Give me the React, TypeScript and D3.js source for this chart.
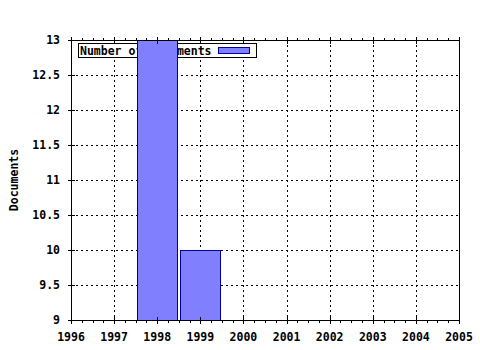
import React from "react";
import * as d3 from "d3";

const years = [1996, 1997, 1998, 1999, 2000, 2001, 2002, 2003, 2004, 2005];
const barYears = [1998, 1999];
const barValues = [13, 10];
const yTicks = [9, 9.5, 10, 10.5, 11, 11.5, 12, 12.5, 13];
const seriesName = "Number of Documents";
const yTitle = "Documents";

const W = 480, H = 350;
const L = 71, R = 459, T = 40, B = 320;
const FONT = "'DejaVu Sans Mono', monospace";

export default function App() {
  const x = d3.scaleLinear().domain([1996, 2005]).range([L, R]);
  const y = d3.scaleLinear().domain([9, 13]).range([B, T]);
  const step = x(1997) - x(1996);
  const bw = step * 0.93;
  const minor: number[] = [];
  for (let i = 0; i < years.length - 1; i++) {
    for (let k = 1; k < 4; k++) minor.push(years[i] + k / 4);
  }
  return (
    <svg width={W} height={H} style={{ position: "absolute", left: 0, top: 0, background: "#fff" }}>
      <defs>
        <clipPath id="plot">
          <rect x={L} y={T} width={R - L} height={B - T} />
        </clipPath>
      </defs>
      <rect x={0} y={0} width={W} height={H} fill="#fff" />
      {/* grid */}
      {years.slice(1, -1).map((yr) => (
        <line key={"gx" + yr} x1={Math.round(x(yr)) + 0.5} x2={Math.round(x(yr)) + 0.5} y1={T} y2={B}
          stroke="#000" strokeDasharray="2,3" strokeWidth={1} />
      ))}
      {yTicks.slice(1, -1).map((v) => (
        <line key={"gy" + v} x1={L} x2={R} y1={Math.round(y(v)) + 0.5} y2={Math.round(y(v)) + 0.5}
          stroke="#000" strokeDasharray="2,3" strokeWidth={1} />
      ))}
      {/* legend */}
      <rect x={78.5} y={43.5} width={178} height={14} fill="#fff" stroke="#000" strokeWidth={1} />
      <text x={80} y={55} fontFamily={FONT} fontWeight="bold" fontSize={11.5} fill="#000">{seriesName}</text>
      <rect x={218.5} y={47.5} width={31} height={6} fill="#8080ff" stroke="#0000a0" strokeWidth={1} />
      {/* bars */}
      <g clipPath="url(#plot)">
        {barYears.map((yr, i) => (
          <rect key={"b" + yr} x={Math.round(x(yr) - bw / 2) + 0.5} y={Math.round(y(barValues[i])) + 0.5}
            width={Math.round(bw)} height={B - Math.round(y(barValues[i]))}
            fill="#8080ff" stroke="#0000a0" strokeWidth={1} />
        ))}
      </g>
      {/* frame */}
      <line x1={L + 0.5} x2={L + 0.5} y1={T} y2={B + 1} stroke="#000" />
      <line x1={R + 0.5} x2={R + 0.5} y1={T} y2={B + 1} stroke="#000" />
      <line x1={L} x2={R + 1} y1={T + 0.5} y2={T + 0.5} stroke="#000" />
      <line x1={L} x2={R + 1} y1={B + 0.5} y2={B + 0.5} stroke="#000" />
      {/* x ticks */}
      {years.map((yr) => (
        <g key={"xt" + yr}>
          <line x1={Math.round(x(yr)) + 0.5} x2={Math.round(x(yr)) + 0.5} y1={B - 3} y2={B + 4} stroke="#000" />
          <line x1={Math.round(x(yr)) + 0.5} x2={Math.round(x(yr)) + 0.5} y1={T - 3} y2={T + 4} stroke="#000" />
          <text x={x(yr)} y={341} textAnchor="middle" fontFamily={FONT} fontWeight="bold" fontSize={11.5} fill="#000">{yr}</text>
        </g>
      ))}
      {minor.map((m, i) => (
        <g key={"mt" + i}>
          <line x1={Math.round(x(m)) + 0.5} x2={Math.round(x(m)) + 0.5} y1={B} y2={B + 3} stroke="#000" />
          <line x1={Math.round(x(m)) + 0.5} x2={Math.round(x(m)) + 0.5} y1={T - 2} y2={T + 1} stroke="#000" />
        </g>
      ))}
      {/* y ticks */}
      {yTicks.map((v) => (
        <g key={"yt" + v}>
          <line x1={L - 3} x2={L + 4} y1={Math.round(y(v)) + 0.5} y2={Math.round(y(v)) + 0.5} stroke="#000" />
          <text x={60} y={y(v) + 4} textAnchor="end" fontFamily={FONT} fontWeight="bold" fontSize={11.5} fill="#000">{v}</text>
        </g>
      ))}
      <text transform={`translate(18, ${(T + B) / 2}) rotate(-90)`} textAnchor="middle"
        fontFamily={FONT} fontWeight="bold" fontSize={11.5} fill="#000">{yTitle}</text>
    </svg>
  );
}
